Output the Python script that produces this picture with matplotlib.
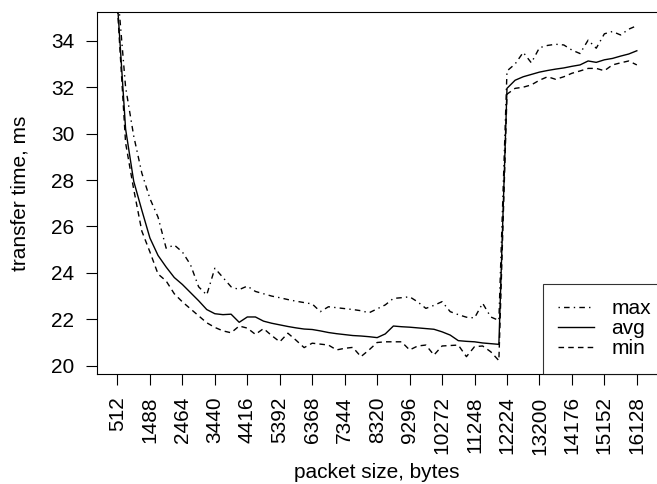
import matplotlib
matplotlib.use("Agg")
import matplotlib.pyplot as plt

# packet sizes swept (bytes)
sizes = [512, 756, 1000, 1244, 1488, 1732, 1976, 2220, 2464, 2708, 2952, 3196,
         3440, 3684, 3928, 4172, 4416, 4660, 4904, 5148, 5392, 5636, 5880, 6124,
         6368, 6612, 6856, 7100, 7344, 7588, 7832, 8076, 8320, 8564, 8808, 9052,
         9296, 9540, 9784, 10028, 10272, 10516, 10760, 11004, 11248, 11492, 11736,
         11980, 12224, 12468, 12712, 12956, 13200, 13444, 13688, 13932, 14176,
         14420, 14664, 14908, 15152, 15396, 15640, 15884, 16128]

# transfer times (ms)
t_max = [36.2, 32.0, 29.9, 28.3, 27.2, 26.4, 25.06, 25.2, 24.9, 24.35,
         23.4, 23.05, 24.2, 23.8, 23.4, 23.28, 23.43, 23.2, 23.1, 23.0,
         22.93, 22.85, 22.78, 22.72, 22.66, 22.33, 22.54, 22.5, 22.46, 22.42,
         22.37, 22.28, 22.45, 22.62, 22.9, 22.93, 22.97, 22.75, 22.47, 22.6,
         22.76, 22.33, 22.2, 22.09, 22.06, 22.69, 22.1, 21.95,
         32.7, 33.0, 33.5, 33.05, 33.7, 33.8, 33.85, 33.82, 33.6, 33.45,
         34.03, 33.68, 34.3, 34.4, 34.25, 34.5, 34.65]
t_avg = [35.6, 30.2, 27.95, 26.7, 25.5, 24.75, 24.25, 23.8, 23.5, 23.15,
         22.8, 22.42, 22.24, 22.2, 22.22, 21.87, 22.1, 22.1, 21.92, 21.83,
         21.76, 21.69, 21.63, 21.58, 21.56, 21.5, 21.43, 21.38, 21.34, 21.3,
         21.28, 21.25, 21.21, 21.37, 21.71, 21.68, 21.66, 21.63, 21.6, 21.57,
         21.46, 21.32, 21.08, 21.05, 21.03, 20.98, 20.95, 20.92,
         31.95, 32.3, 32.45, 32.55, 32.65, 32.72, 32.78, 32.83, 32.9, 32.96,
         33.13, 33.07, 33.18, 33.24, 33.34, 33.43, 33.57]
t_min = [35.4, 29.6, 27.6, 25.8, 24.9, 23.95, 23.65, 23.1, 22.75, 22.45,
         22.15, 21.85, 21.65, 21.5, 21.42, 21.71, 21.62, 21.35, 21.6, 21.3,
         21.03, 21.4, 21.1, 20.78, 20.97, 20.93, 20.89, 20.68, 20.75, 20.79,
         20.39, 20.68, 21.0, 21.03, 21.03, 21.03, 20.68, 20.85, 20.89, 20.46,
         20.85, 20.87, 20.89, 20.39, 20.82, 20.85, 20.6, 20.22,
         31.7, 31.95, 32.0, 32.1, 32.3, 32.45, 32.34, 32.45, 32.6, 32.7,
         32.81, 32.81, 32.71, 32.96, 33.05, 33.13, 32.96]

xticks = sizes[::4]
yticks = [20, 22, 24, 26, 28, 30, 32, 34]

plt.rcParams["font.family"] = ["Liberation Sans", "DejaVu Sans"]
plt.rcParams["font.size"] = 15

W, H = 657, 484
fig = plt.figure(figsize=(W / 100, H / 100), dpi=100)
left, right, top, bottom = 96.7, 657.6, 12.3, 374.0
ax = fig.add_axes([left / W, 1 - bottom / H, (right - left) / W, (bottom - top) / H])

ax.plot(sizes, t_max, color="black", lw=1.0, ls=(0, (1, 3, 4, 3)), label="max")
ax.plot(sizes, t_avg, color="black", lw=1.0, ls="-", label="avg")
ax.plot(sizes, t_min, color="black", lw=1.0, ls=(0, (4, 3)), label="min")

# R-style 4% padding around the data range
span_x = sizes[-1] - sizes[0]
ax.set_xlim(sizes[0] - 0.04 * span_x, sizes[-1] + 0.04 * span_x)
lo, hi = min(t_min[1:]), max(t_max[1:])
ax.set_ylim(lo - 0.04 * (hi - lo), hi + 0.04 * (hi - lo))

ax.set_xticks(xticks)
ax.set_xticklabels([str(v) for v in xticks], rotation=90)
ax.set_yticks(yticks)
ax.tick_params(direction="out", length=7.6, width=0.8, pad=8.5, colors="black")
for sp in ax.spines.values():
    sp.set_linewidth(0.8)

fig.text(377 / W, 1 - 473 / H, "packet size, bytes", ha="center", va="center")
fig.text(20 / W, 1 - 193 / H, "transfer time, ms", ha="center", va="center",
         rotation=90)

# legend sits in the bottom-right corner, its right edge running off the page
leg = ax.legend(loc="lower right", bbox_to_anchor=(1.016, 0.0), frameon=True,
                fancybox=False, borderaxespad=0, handlelength=1.7,
                handletextpad=0.85, borderpad=0.75, labelspacing=0.05)
leg.get_frame().set_edgecolor("black")
leg.get_frame().set_linewidth(0.8)

fig.savefig("out.png", dpi=100)
